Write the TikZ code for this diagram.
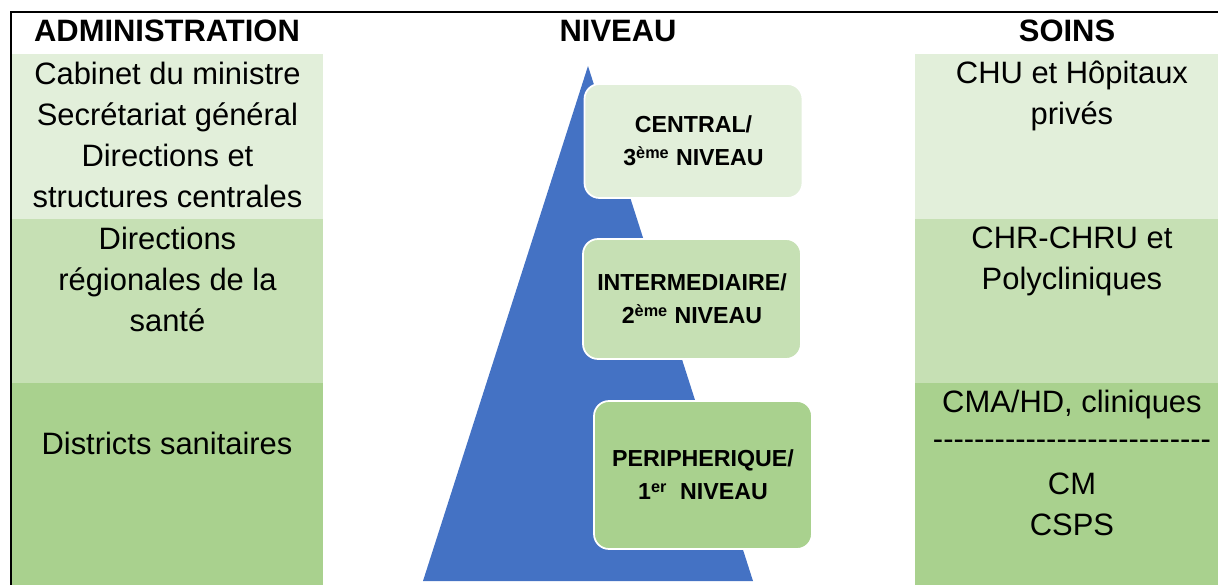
\documentclass[tikz,border=0pt]{standalone}
\usepackage{fontspec}
\setmainfont{Liberation Sans}[Ligatures=TeXOff]
\usetikzlibrary{positioning}

\definecolor{greenlight}{HTML}{E2EFDA}
\definecolor{greenmid}{HTML}{C6E0B4}
\definecolor{greendark}{HTML}{A9D18E}
\definecolor{pyramidblue}{HTML}{4472C4}

\tikzset{
	band/.style={rectangle, inner sep=0pt, outer sep=0pt, anchor=north west},
	coltext/.style={align=center, inner sep=0pt, font=\fontsize{17.6}{23.3}\selectfont},
	header/.style={inner sep=0pt, font=\fontsize{17.6}{23.3}\selectfont\bfseries},
	levelbox/.style={draw=white, line width=1pt, rounded corners=0.3cm, align=center,
		inner sep=0pt, minimum width=4.36cm, font=\fontsize{13.2}{18.8}\selectfont\bfseries},
}

\begin{document}
\begin{tikzpicture}[x=0.02cm, y=-0.02cm]
		\useasboundingbox (0,0) rectangle (1218,585);
		
		% columns
		\node (AdmLight) at (12,54) [band, fill=greenlight, minimum width=6.22cm, minimum height=3.3cm]{};
		\node (AdmMid) at (12,219) [band, fill=greenmid, minimum width=6.22cm, minimum height=3.28cm]{};
		\node (AdmDark) at (12,383) [band, fill=greendark, minimum width=6.22cm, minimum height=4.04cm]{};
		\node (SoinLight) at (915,54) [band, fill=greenlight, minimum width=6.06cm, minimum height=3.3cm]{};
		\node (SoinMid) at (915,219) [band, fill=greenmid, minimum width=6.06cm, minimum height=3.28cm]{};
		\node (SoinDark) at (915,383) [band, fill=greendark, minimum width=6.06cm, minimum height=4.04cm]{};
		
		\draw[line width=1pt] (11,585) -- (11,12) -- (1218,12);
		
		% headers
		\node (Administration) at (167,31) [header]{ADMINISTRATION};
		\node (Niveau) at (618,31) [header]{NIVEAU};
		\node (Soins) at (1067,31) [header]{SOINS};
		
		% pyramid
		\fill[pyramidblue] (588,66) -- (753,581) -- (423,581) -- cycle;
		
		\node (Central) at (693.5,141) [levelbox, fill=greenlight, minimum height=2.28cm]
		{CENTRAL/\\3\textsuperscript{ème} NIVEAU};
		\node (Intermediaire) at (692,299) [levelbox, fill=greenmid, minimum height=2.4cm]
		{INTERMEDIAIRE/\\2\textsuperscript{ème} NIVEAU};
		\node (Peripherique) at (703,475) [levelbox, fill=greendark, minimum height=2.96cm]
		{PERIPHERIQUE/\\1\textsuperscript{er}~ NIVEAU};
		
		% texts
		\node (AdmCentral) [coltext, below=0.15cm of AdmLight.north]
		{Cabinet du ministre\\Secrétariat général\\Directions et\\structures centrales};
		\node (AdmRegional) [coltext, below=0.16cm of AdmMid.north]
		{Directions\\régionales de la\\santé};
		\node (AdmDistrict) at (167,443) [coltext]{Districts sanitaires};
		\node (SoinCentral) [coltext, xshift=0.11cm, below=0.14cm of SoinLight.north]
		{CHU et Hôpitaux\\privés};
		\node (SoinRegional) [coltext, xshift=0.11cm, below=0.16cm of SoinMid.north]
		{CHR-CHRU et\\Polycliniques};
		\node (SoinDistrict) [coltext, xshift=0.11cm, below=0.14cm of SoinDark.north]
		{CMA/HD, cliniques\\[-2.3pt]---------------------------\\[2.3pt]CM\\CSPS};
\end{tikzpicture}
\end{document}
